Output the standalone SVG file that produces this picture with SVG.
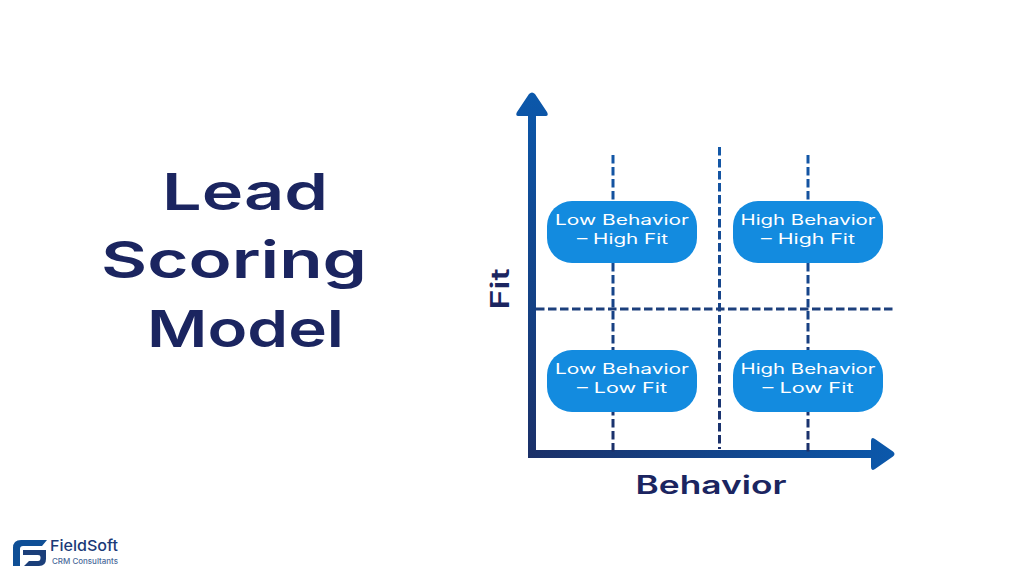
<svg xmlns="http://www.w3.org/2000/svg" width="1024" height="576" viewBox="0 0 1024 576">
<style>
text{font-family:Inter,"DejaVu Sans",sans-serif}
.t{font-size:51px;font-weight:600;fill:#1b2560;text-anchor:middle}
.a{font-size:25px;font-weight:600;fill:#1b2560;text-anchor:middle}
.n{font-size:14px;font-weight:400;fill:#fff;text-anchor:middle}
.box{fill:#138bdf}
.d{stroke-width:3;stroke-dasharray:8.500 3.500;fill:none}
</style>
<defs>
<linearGradient id="gv" gradientUnits="userSpaceOnUse" x1="0" y1="92" x2="0" y2="458"><stop offset="0" stop-color="#0b58ab"/><stop offset="1" stop-color="#1b3068"/></linearGradient>
<linearGradient id="gh" gradientUnits="userSpaceOnUse" x1="528" y1="0" x2="895" y2="0"><stop offset="0" stop-color="#1b3068"/><stop offset="1" stop-color="#0b58ab"/></linearGradient>
<linearGradient id="gd" gradientUnits="userSpaceOnUse" x1="0" y1="150" x2="0" y2="455"><stop offset="0" stop-color="#1358a8"/><stop offset="1" stop-color="#1b2f68"/></linearGradient>
</defs>
<g id="connectors">
<path id="y-axis" fill="url(#gv)" d="M528 116 H518.500 Q515 116 517 112 L529 94 Q532 91 535 94 L547 112 Q549 116 545.500 116 H536 V458 H528 Z"/>
<path id="x-axis" fill="url(#gh)" d="M528 458 V450 H871 V441 Q871 436.500 875 439 L893 451.500 Q896 454 893 456.500 L875 469 Q871 471.500 871 467 V458 Z"/>
<line class="d" x1="613" y1="155" x2="613" y2="452" stroke="url(#gd)"/>
<line class="d" x1="719.500" y1="147" x2="719.500" y2="449" stroke="url(#gd)"/>
<line class="d" x1="808" y1="155" x2="808" y2="455" stroke="url(#gd)"/>
<line class="d" x1="536" y1="309" x2="895" y2="309" stroke="#1c3f7c"/>
</g>
<g id="title">
<text class="t" x="245" y="210" textLength="166" lengthAdjust="spacingAndGlyphs">Lead</text>
<text class="t" x="234" y="278" textLength="266" lengthAdjust="spacingAndGlyphs">Scoring</text>
<text class="t" x="245.500" y="347" textLength="197" lengthAdjust="spacingAndGlyphs">Model</text>
</g>
<g id="node-low-high"><rect class="box" x="547" y="201" width="150" height="62" rx="25"/><text class="n" x="622" y="225" textLength="134" lengthAdjust="spacingAndGlyphs">Low Behavior</text><text class="n" x="622.500" y="244" textLength="91" lengthAdjust="spacingAndGlyphs">– High Fit</text></g>
<g id="node-high-high"><rect class="box" x="733" y="201" width="150" height="62" rx="25"/><text class="n" x="808" y="225" textLength="135" lengthAdjust="spacingAndGlyphs">High Behavior</text><text class="n" x="808" y="244" textLength="94" lengthAdjust="spacingAndGlyphs">– High Fit</text></g>
<g id="node-low-low"><rect class="box" x="547" y="350" width="150" height="62" rx="25"/><text class="n" x="622" y="374" textLength="134" lengthAdjust="spacingAndGlyphs">Low Behavior</text><text class="n" x="622" y="393" textLength="90" lengthAdjust="spacingAndGlyphs">– Low Fit</text></g>
<g id="node-high-low"><rect class="box" x="733" y="350" width="150" height="62" rx="25"/><text class="n" x="808" y="374" textLength="135" lengthAdjust="spacingAndGlyphs">High Behavior</text><text class="n" x="808" y="393" textLength="91" lengthAdjust="spacingAndGlyphs">– Low Fit</text></g>
<g id="axis-labels">
<text class="a" x="711" y="494" textLength="151" lengthAdjust="spacingAndGlyphs">Behavior</text>
<text class="a" transform="translate(509,289) rotate(-90)" textLength="41" lengthAdjust="spacingAndGlyphs">Fit</text>
</g>
<g id="logo">
<path fill="#0f4f96" d="M13 566 L13 548 Q13 540 21 540 L47 540 L42 546 L23 546 Q20 546 20 549 L20 566 Z"/>
<path fill="#1b3f7a" d="M23 550 L46 550 L46 559 Q46 566 39 566 L24 566 L29 561 L38 561 Q40.500 561 40.500 558 L40.500 557 Q40.500 555 38 555 L23 555 Z"/>
<text x="50" y="551" font-size="15" font-weight="500" fill="#1b3a78" textLength="68" lengthAdjust="spacingAndGlyphs">FieldSoft</text>
<text x="52" y="563.500" font-size="7.500" font-weight="500" fill="#4a6a9a" textLength="66" lengthAdjust="spacingAndGlyphs">CRM Consultants</text>
</g>
</svg>
